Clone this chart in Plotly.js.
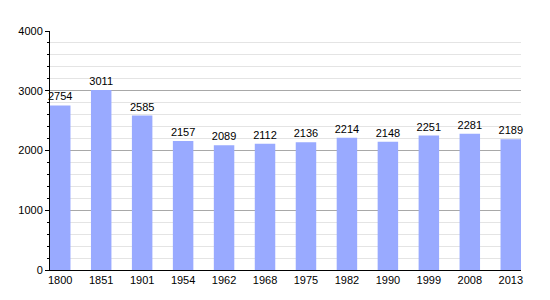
<!DOCTYPE html>
<html><head><meta charset="utf-8">
<script src="https://cdn.plot.ly/plotly-3.0.1.min.js"></script>
<style>html,body{margin:0;padding:0;background:#fff}#chart{width:550px;height:300px}</style>
</head><body><div id="chart"></div>
<script>
const years = ["1800","1851","1901","1954","1962","1968","1975","1982","1990","1999","2008","2013"];
const population = [2754,3011,2585,2157,2089,2112,2136,2214,2148,2251,2281,2189];
const yTicks = [0,1000,2000,3000,4000];

const idx = years.map((_, i) => i);
const trace = {
  type: 'bar',
  x: idx,
  y: population,
  width: 0.5,
  marker: {color: '#99aaff', line: {width: 0}},
  text: population.map(String),
  textposition: 'outside',
  constraintext: 'none',
  textfont: {family: 'Liberation Sans, Arial, sans-serif', size: 11, color: '#000'},
  cliponaxis: false,
  hoverinfo: 'none'
};
const layout = {
  width: 550, height: 300,
  margin: {l: 50, r: 29, t: 31, b: 30},
  paper_bgcolor: '#fff', plot_bgcolor: '#fff',
  showlegend: false,
  font: {family: 'Liberation Sans, Arial, sans-serif', size: 11, color: '#000'},
  xaxis: {
    range: [-0.25, 11.25],
    tickmode: 'array', tickvals: idx, ticktext: years,
    showgrid: false, zeroline: false,
    showline: true, linecolor: '#000', linewidth: 1,
    ticks: '', ticklen: 0,
    tickfont: {size: 11, color: '#000'}
  },
  yaxis: {
    range: [0, 4000],
    tickmode: 'array', tickvals: yTicks,
    showgrid: true, gridcolor: '#a8a8a8', gridwidth: 1,
    zeroline: false,
    showline: true, linecolor: '#000', linewidth: 1,
    ticks: 'outside', ticklen: 4, tickcolor: '#000',
    tickfont: {size: 11, color: '#000'},
    minor: {dtick: 200, tick0: 0, showgrid: true, gridcolor: '#e4e4e4', gridwidth: 1, ticks: 'outside', ticklen: 2, tickcolor: '#000'}
  }
};
Plotly.newPlot('chart', [trace], layout, {staticPlot: true, displayModeBar: false});
</script></body></html>
